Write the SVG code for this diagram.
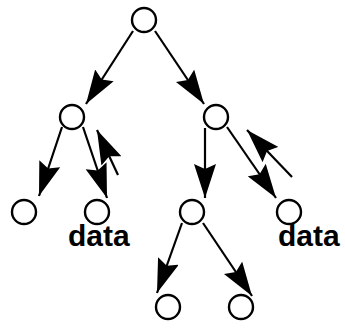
<svg xmlns="http://www.w3.org/2000/svg" width="345" height="328" viewBox="0 0 345 328">
  <style>
    .node circle { fill: #fff; stroke: #000; stroke-width: 2.4; }
    .edge { stroke: #000; stroke-width: 2.2; fill: none; marker-end: url(#head); }
    .label { font-family: "Liberation Sans", Arial, sans-serif; font-weight: bold; font-size: 30px; fill: #000; }
  </style>
  <defs>
    <!-- large solid arrowhead with a slight notch at the back -->
    <marker id="head" viewBox="0 0 34 22" refX="34" refY="11" markerWidth="34" markerHeight="22" markerUnits="userSpaceOnUse" orient="auto">
      <path d="M0,0 L34,11 L0,22 L5,11 Z" fill="#000"/>
    </marker>
  </defs>
  <rect width="345" height="328" fill="#fff"/>

  <g id="connectors">
    <line class="edge" x1="133" y1="31" x2="86" y2="104"/>
    <line class="edge" x1="155" y1="31" x2="204" y2="104"/>
    <line class="edge" x1="62" y1="127" x2="39" y2="196"/>
    <line class="edge" x1="83" y1="127" x2="107" y2="198"/>
    <line class="edge" x1="118" y1="175" x2="97" y2="130"/>
    <line class="edge" x1="205" y1="128" x2="205" y2="198"/>
    <line class="edge" x1="227" y1="127" x2="276" y2="198"/>
    <line class="edge" x1="292" y1="177" x2="247" y2="130"/>
    <line class="edge" x1="182" y1="223" x2="157" y2="293"/>
    <line class="edge" x1="203" y1="223" x2="252" y2="296"/>
  </g>

  <g id="root" class="node"><circle cx="144" cy="20" r="12"/></g>
  <g id="left" class="node"><circle cx="72" cy="117" r="12"/></g>
  <g id="right" class="node"><circle cx="216" cy="117" r="12"/></g>
  <g id="left-left" class="node"><circle cx="24" cy="212" r="12"/></g>
  <g id="left-right" class="node">
    <circle cx="97" cy="212" r="12"/>
    <text class="label" x="68" y="246">data</text>
  </g>
  <g id="right-left" class="node"><circle cx="192" cy="212" r="12"/></g>
  <g id="right-right" class="node">
    <circle cx="289" cy="212" r="12"/>
    <text class="label" x="278" y="246">data</text>
  </g>
  <g id="right-left-left" class="node"><circle cx="168" cy="307" r="12"/></g>
  <g id="right-left-right" class="node"><circle cx="241" cy="307" r="12"/></g>
</svg>
